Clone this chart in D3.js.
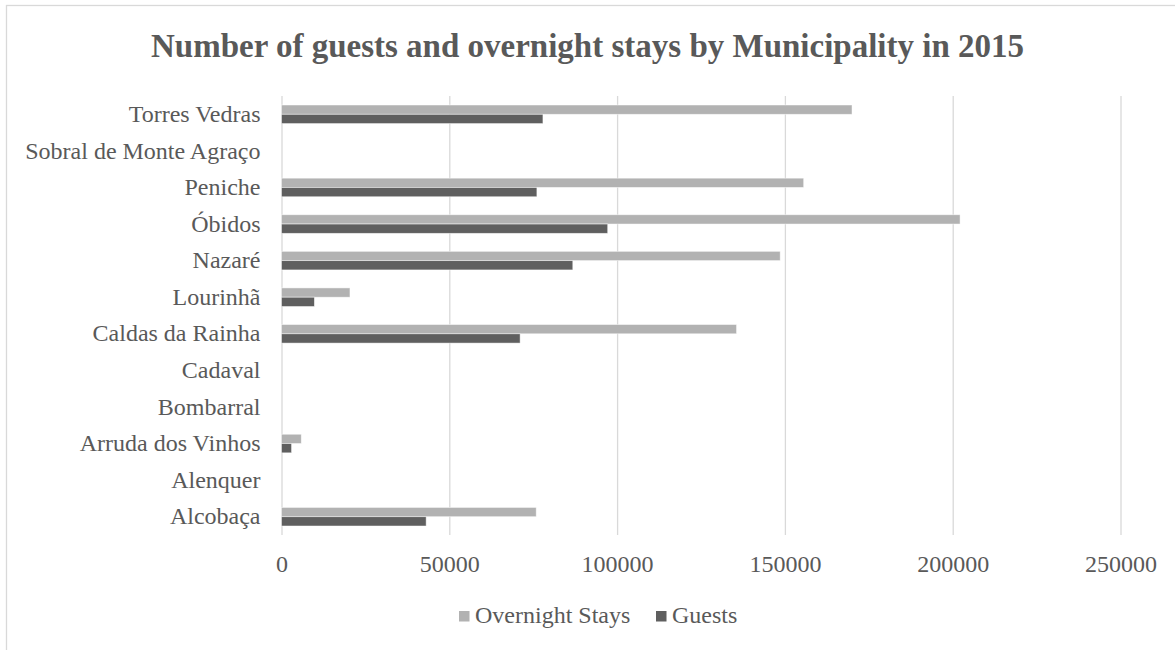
<!DOCTYPE html>
<html>
<head>
<meta charset="utf-8">
<script src="https://cdn.jsdelivr.net/npm/d3@7"></script>
<style>
  html, body { margin: 0; padding: 0; background: #fff; }
  svg { display: block; }
  text { font-family: "Liberation Serif", "Times New Roman", serif; fill: #595959; }
</style>
</head>
<body>
<svg id="chart" width="1175" height="650"></svg>
<script>
// Categories (top to bottom as displayed)
const municipalities = ["Torres Vedras", "Sobral de Monte Agraço", "Peniche", "Óbidos", "Nazaré", "Lourinhã",
  "Caldas da Rainha", "Cadaval", "Bombarral", "Arruda dos Vinhos", "Alenquer", "Alcobaça"];
const overnightStays = [170000, 0, 155600, 202200, 148600, 20400, 135600, 0, 0, 5900, 0, 75900];
const guests = [77900, 0, 76100, 97200, 86800, 9800, 71100, 0, 0, 3000, 0, 43100];
const seriesNames = ["Overnight Stays", "Guests"];
const seriesColors = ["#b2b2b2", "#5f5f5f"];
const xTicks = [0, 50000, 100000, 150000, 200000, 250000];
const titleText = "Number of guests and overnight stays by Municipality in 2015";

const svg = d3.select("#chart");
const W = 1175, H = 650;
const plot = { left: 281.5, right: 1120.5, top: 96, bottom: 535 };

// chart border
svg.append("rect")
  .attr("x", 6.5).attr("y", 5.5)
  .attr("width", W + 20).attr("height", H + 20)
  .attr("fill", "#fff").attr("stroke", "#d9d9d9").attr("stroke-width", 1.3);

// title
svg.append("text")
  .attr("x", 587.5).attr("y", 57)
  .attr("text-anchor", "middle")
  .style("font-size", "33px").style("font-weight", "bold")
  .text(titleText);

const x = d3.scaleLinear().domain([0, 250000]).range([plot.left, plot.right]);
const y = d3.scaleBand().domain(municipalities).range([plot.top, plot.bottom]).paddingInner(0).paddingOuter(0);
const barH = 9.3;

// gridlines
const grid = svg.append("g")
  .attr("transform", `translate(0,${plot.bottom})`)
  .call(d3.axisBottom(x).tickValues(xTicks).tickSize(-(plot.bottom - plot.top)).tickFormat(""));
grid.select(".domain").remove();
grid.selectAll("line").attr("stroke", "#d9d9d9").attr("stroke-width", 1.3);

// x tick labels
const xAxis = svg.append("g")
  .attr("transform", `translate(0,${plot.bottom})`)
  .call(d3.axisBottom(x).tickValues(xTicks).tickSize(0).tickPadding(0).tickFormat(d3.format("d")));
xAxis.select(".domain").remove();
xAxis.selectAll("text")
  .attr("y", 37).attr("dy", 0)
  .style("font-size", "24px").style("font-family", "Liberation Serif, serif").attr("fill", "#595959");

// y labels
const yAxis = svg.append("g")
  .attr("transform", `translate(${plot.left},0)`)
  .call(d3.axisLeft(y).tickSize(0).tickPadding(21));
yAxis.select(".domain").remove();
yAxis.selectAll("text")
  .attr("dy", "0.32em")
  .style("font-size", "24px").style("font-family", "Liberation Serif, serif").attr("fill", "#595959");

// bars
const rows = municipalities.map((m, i) => ({ m, vals: [overnightStays[i], guests[i]] }));
const g = svg.append("g");
rows.forEach(r => {
  const c = y(r.m) + y.bandwidth() / 2;
  r.vals.forEach((v, k) => {
    if (v <= 0) return;
    g.append("rect")
      .attr("x", x(0))
      .attr("y", c - barH + k * barH)
      .attr("width", x(v) - x(0))
      .attr("height", barH)
      .attr("fill", seriesColors[k])
      .attr("stroke", "#ffffff").attr("stroke-opacity", 0.6).attr("stroke-width", 0.8);
  });
});

// legend
const legendItems = [{ name: seriesNames[0], color: seriesColors[0], x: 459 }, { name: seriesNames[1], color: seriesColors[1], x: 656 }];
const lg = svg.append("g");
legendItems.forEach(it => {
  lg.append("rect").attr("x", it.x).attr("y", 611).attr("width", 10.5).attr("height", 10.5).attr("fill", it.color);
  lg.append("text").attr("x", it.x + 16).attr("y", 622.5)
    .style("font-size", "24px").text(it.name);
});
</script>
</body>
</html>
